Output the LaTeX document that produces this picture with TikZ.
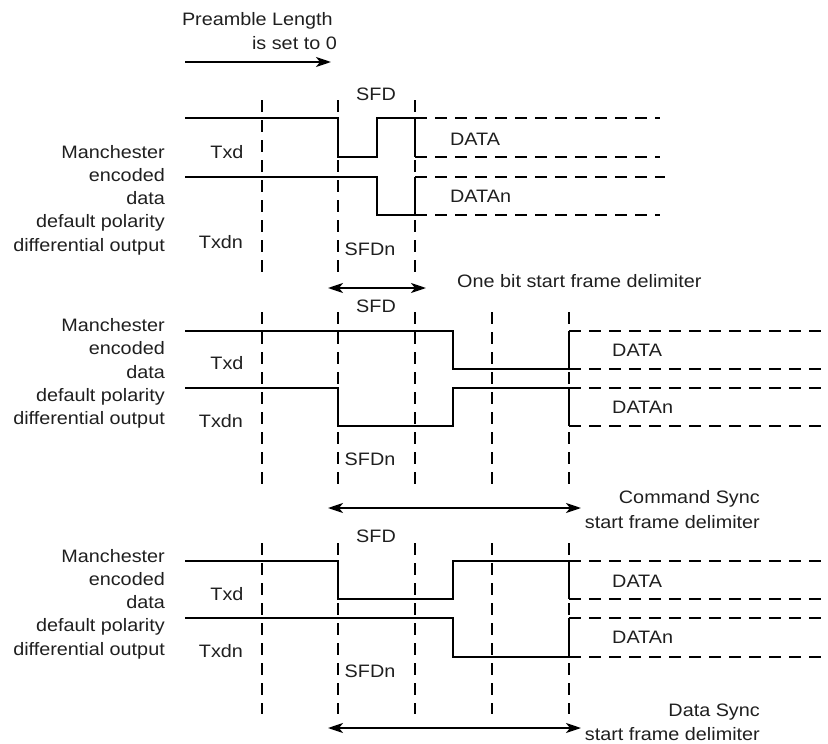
\documentclass[tikz,border=0pt]{standalone}
\usepackage{fontspec}
\setmainfont{Liberation Sans}[FakeStretch=1.1]
\usetikzlibrary{arrows.meta}
\begin{document}
\begin{tikzpicture}[x=1pt,y=-1pt,
  sig/.style={line width=2.8pt,line join=miter},
  dat/.style={line width=2.8pt,dash pattern=on 12pt off 8pt},
  gridline/.style={line width=1.8pt,dash pattern=on 12pt off 8pt},
  lbl/.style={inner sep=0pt,anchor=base,text=black!88,font=\fontsize{18}{23.3}\selectfont},
  side/.style={inner sep=0pt,anchor=east,align=right,text=black!88,font=\fontsize{18}{23.3}\selectfont},
  arr/.style={line width=2pt,-{Stealth[length=15pt,width=10pt,inset=4pt]}},
  darr/.style={line width=2pt,{Stealth[length=15pt,width=10pt,inset=4pt]}-{Stealth[length=15pt,width=10pt,inset=4pt]}}]
\useasboundingbox (0,0) rectangle (828,744);

% ---------- top: preamble ----------
\node[side,anchor=base east] (pre1) at (333,25) {Preamble Length};
\node[side,anchor=base east] (pre2) at (337,49) {is set to 0};
\coordinate (pa) at (185,62);
\coordinate (pb) at (331,62);
\draw[arr] (pa) -- (pb);

% ---------- section 1 ----------
\foreach \x in {262,338,415} \draw[gridline] (\x,100) -- (\x,273);
\draw[sig] (185,118) -- (338,118) -- (338,157) -- (377,157) -- (377,118) -- (415,118) -- (415,157);
\draw[dat] (415,118) -- (660,118);
\draw[dat] (415,157) -- (660,157);
\draw[sig] (185,177) -- (377,177) -- (377,215) -- (415,215) -- (415,177);
\draw[dat] (415,177) -- (665,177);
\draw[dat] (415,215) -- (660,215);
\node[side] (m1) at (165,200) {Manchester\\encoded\\data\\default polarity\\differential output};
\node[lbl] (txd1) at (227,158) {Txd};
\node[lbl] (txdn1) at (221,248) {Txdn};
\node[lbl] (sfd1) at (376,100) {SFD};
\node[lbl] (sfdn1) at (370,255) {SFDn};
\node[lbl,anchor=base west] (data1) at (450,145) {DATA};
\node[lbl,anchor=base west] (datan1) at (450,202) {DATAn};
\coordinate (oa) at (328,288);
\coordinate (ob) at (426,288);
\draw[darr] (oa) -- (ob);
\node[lbl,anchor=base west] (one) at (457,287) {One bit start frame delimiter};

% ---------- section 2 ----------
\foreach \x in {262,338,415,492,569} \draw[gridline] (\x,312) -- (\x,484);
\draw[sig] (185,331) -- (453,331) -- (453,369) -- (569,369) -- (569,331);
\draw[dat] (569,331) -- (828,331);
\draw[dat] (569,369) -- (828,369);
\draw[sig] (185,388) -- (338,388) -- (338,426) -- (453,426) -- (453,388) -- (569,388) -- (569,426);
\draw[dat] (569,388) -- (828,388);
\draw[dat] (569,426) -- (828,426);
\node[side] (m2) at (165,373.5) {Manchester\\encoded\\data\\default polarity\\differential output};
\node[lbl] (txd2) at (227,369) {Txd};
\node[lbl] (txdn2) at (221,427) {Txdn};
\node[lbl] (sfd2) at (376,312) {SFD};
\node[lbl] (sfdn2) at (370,465) {SFDn};
\node[lbl,anchor=base west] (data2) at (612,356) {DATA};
\node[lbl,anchor=base west] (datan2) at (612,413) {DATAn};
\coordinate (ca) at (328,508);
\coordinate (cb) at (581,508);
\draw[darr] (ca) -- (cb);
\node[lbl,anchor=base east] (cs1) at (760,503) {Command Sync};
\node[lbl,anchor=base east] (cs2) at (760,528) {start frame delimiter};

% ---------- section 3 ----------
\foreach \x in {262,338,415,492,569} \draw[gridline] (\x,543) -- (\x,714);
\draw[sig] (185,561) -- (338,561) -- (338,599) -- (453,599) -- (453,561) -- (569,561) -- (569,599);
\draw[dat] (569,561) -- (828,561);
\draw[dat] (569,599) -- (828,599);
\draw[sig] (185,618) -- (453,618) -- (453,657) -- (569,657) -- (569,618);
\draw[dat] (569,618) -- (828,618);
\draw[dat] (569,657) -- (828,657);
\node[side] (m3) at (165,604) {Manchester\\encoded\\data\\default polarity\\differential output};
\node[lbl] (txd3) at (227,600) {Txd};
\node[lbl] (txdn3) at (221,657) {Txdn};
\node[lbl] (sfd3) at (376,542) {SFD};
\node[lbl] (sfdn3) at (370,677) {SFDn};
\node[lbl,anchor=base west] (data3) at (612,587) {DATA};
\node[lbl,anchor=base west] (datan3) at (612,643) {DATAn};
\coordinate (da) at (328,728);
\coordinate (db) at (581,728);
\draw[darr] (da) -- (db);
\node[lbl,anchor=base east] (ds1) at (760,716) {Data Sync};
\node[lbl,anchor=base east] (ds2) at (760,740) {start frame delimiter};
\end{tikzpicture}
\end{document}
